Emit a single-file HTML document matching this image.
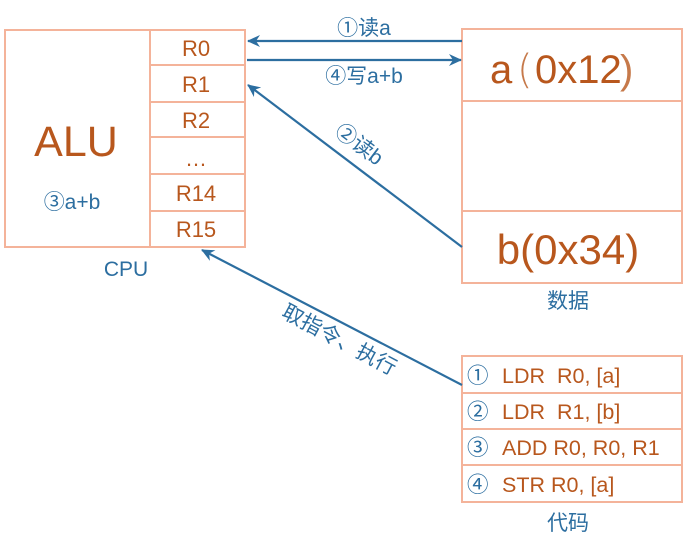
<!DOCTYPE html>
<html><head><meta charset="utf-8"><style>
html,body{margin:0;padding:0;background:#fff;}
svg{display:block;}
text{font-family:"Liberation Sans","Noto Sans CJK SC",sans-serif;}
.o{fill:#b8571d;}
.b{fill:#2c6ea0;}
</style></head><body>
<svg width="685" height="538" viewBox="0 0 685 538" xmlns="http://www.w3.org/2000/svg">
<defs><marker id="ah" markerWidth="13" markerHeight="12" refX="12" refY="6" orient="auto" markerUnits="userSpaceOnUse"><path d="M0,0 L13,6 L0,12 L4,6 Z" fill="#2c6ea0"/></marker></defs>
<g fill="none" stroke="#f4b39a" stroke-width="2">
<rect x="5" y="30" width="240" height="217"/>
<line x1="150" y1="30" x2="150" y2="247"/>
<line x1="150" y1="65" x2="245" y2="65"/>
<line x1="150" y1="102" x2="245" y2="102"/>
<line x1="150" y1="137" x2="245" y2="137"/>
<line x1="150" y1="174" x2="245" y2="174"/>
<line x1="150" y1="211" x2="245" y2="211"/>
<rect x="462" y="29" width="220" height="254"/>
<line x1="462" y1="101" x2="682" y2="101"/>
<line x1="462" y1="211" x2="682" y2="211"/>
<rect x="462" y="356" width="220" height="146"/>
<line x1="462" y1="393" x2="682" y2="393"/>
<line x1="462" y1="429" x2="682" y2="429"/>
<line x1="462" y1="465" x2="682" y2="465"/>
</g>
<g class="o" font-size="22" text-anchor="middle">
<text x="196" y="56">R0</text><text x="196" y="92">R1</text><text x="196" y="128">R2</text>
<text x="196" y="166">…</text><text x="196" y="201">R14</text><text x="196" y="237">R15</text>
</g>
<text class="o" x="76" y="156" font-size="43" text-anchor="middle">ALU</text>
<text class="b" x="72" y="209" font-size="21" text-anchor="middle">③a+b</text>
<text class="b" x="126" y="276" font-size="21" text-anchor="middle">CPU</text>
<text class="o" x="490" y="83" font-size="40">a</text>
<text class="o" x="517" y="83" font-size="40" font-weight="100" style="font-family:'DejaVu Sans','Liberation Sans',sans-serif" fill-opacity="0.8">(</text>
<text class="o" x="535" y="83" font-size="40">0x12</text>
<text class="o" x="620" y="83" font-size="40" fill-opacity="0.8">)</text>
<text class="o" x="568" y="264" font-size="42" text-anchor="middle">b(0x34)</text>
<text class="b" x="568" y="308" font-size="21" text-anchor="middle">数据</text>
<g font-size="21.5">
<text class="b" x="467" y="383">①</text><text class="o" x="502" y="383">LDR&#160;&#160;R0, [a]</text>
<text class="b" x="467" y="419">②</text><text class="o" x="502" y="419">LDR&#160;&#160;R1, [b]</text>
<text class="b" x="467" y="455">③</text><text class="o" x="502" y="455">ADD R0, R0, R1</text>
<text class="b" x="467" y="492">④</text><text class="o" x="502" y="492">STR R0, [a]</text>
</g>
<text class="b" x="568" y="530" font-size="21" text-anchor="middle">代码</text>
<g stroke="#2c6ea0" stroke-width="2.2" fill="none">
<line x1="462" y1="41" x2="248" y2="41" marker-end="url(#ah)"/>
<line x1="247" y1="60" x2="461" y2="60" marker-end="url(#ah)"/>
<line x1="462" y1="247" x2="248" y2="85" marker-end="url(#ah)"/>
<line x1="462" y1="385" x2="202" y2="250" marker-end="url(#ah)"/>
</g>
<text class="b" x="364" y="35" font-size="21" text-anchor="middle">①读a</text>
<text class="b" x="364" y="83" font-size="21" text-anchor="middle">④写a+b</text>
<text class="b" x="355" y="150" font-size="21" text-anchor="middle" transform="rotate(37 355 150)">②读b</text>
<text class="b" x="336" y="346" font-size="21" text-anchor="middle" transform="rotate(28 336 346)">取指令、执行</text>
</svg>
</body></html>
